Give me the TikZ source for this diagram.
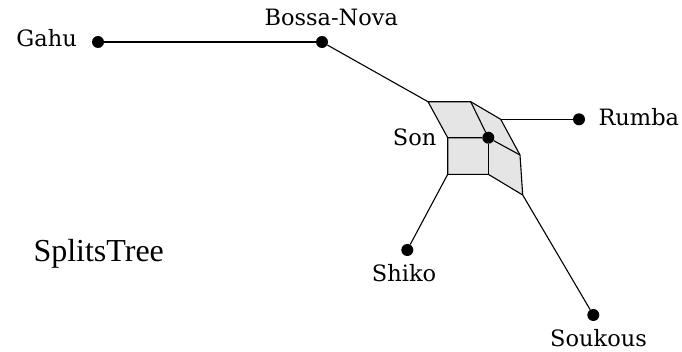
\documentclass[tikz,border=0pt]{standalone}
\usepackage{fontspec}
\newfontfamily\lblfont{DejaVu Serif}
\newfontfamily\titlefont{Liberation Serif}
\begin{document}
\begin{tikzpicture}[x=1pt,y=-1pt,
  leaf/.style={circle,fill=black,inner sep=0pt,minimum size=12pt},
  lbl/.style={inner sep=0pt,font=\lblfont\fontsize{22.5}{24}\selectfont},
  edge/.style={line width=1.1pt,line join=round},
  face/.style={fill=black!10,draw=none}]
\useasboundingbox (0,0) rectangle (682,351);
% network vertices
\coordinate (A) at (428,101.7);
\coordinate (B) at (470.7,101.7);
\coordinate (C) at (500.7,119.3);
\coordinate (D) at (488.3,137.7);
\coordinate (E) at (447.7,137.7);
\coordinate (F) at (520,155);
\coordinate (G) at (447.7,174.3);
\coordinate (H) at (488.3,174.3);
\coordinate (I) at (522.7,195);
% faces
\fill[face] (A) -- (B) -- (D) -- (E) -- cycle;
\fill[face] (B) -- (C) -- (F) -- (D) -- cycle;
\fill[face] (E) -- (D) -- (H) -- (G) -- cycle;
\fill[face] (D) -- (F) -- (I) -- (H) -- cycle;
% leaves
\node[leaf] (gahu) at (98,42) {};
\node[leaf] (bossa) at (322,42) {};
\node[leaf] (rumba) at (579,119.3) {};
\node[leaf] (shiko) at (407.3,250) {};
\node[leaf] (soukous) at (593.3,315) {};
\node[leaf] (son) at (D) {};
% edges
\draw[edge] (gahu) -- (bossa);
\draw[edge] (bossa) -- (A);
\draw[edge] (C) -- (rumba);
\draw[edge] (G) -- (shiko);
\draw[edge] (I) -- (soukous);
\draw[edge] (A) -- (B) -- (C) -- (F) -- (I) -- (H) -- (G) -- (E) -- cycle;
\draw[edge] (B) -- (son) -- (E);
\draw[edge] (son) -- (F);
\draw[edge] (son) -- (H);
% labels
\node[lbl,anchor=base east] (tgahu) at (77,46.7) {Gahu};
\node[lbl,anchor=base west] (tbossa) at (264.3,25) {Bossa-Nova};
\node[lbl,anchor=base west] (tson) at (392.7,145) {Son};
\node[lbl,anchor=base west] (trumba) at (598.3,125) {Rumba};
\node[lbl,anchor=base west] (tshiko) at (371.7,281.7) {Shiko};
\node[lbl,anchor=base west] (tsoukous) at (550,346.7) {Soukous};
\node[inner sep=0pt,anchor=base west,font=\titlefont\fontsize{32}{34}\selectfont] (title) at (33.3,261.7) {SplitsTree};
\end{tikzpicture}
\end{document}
